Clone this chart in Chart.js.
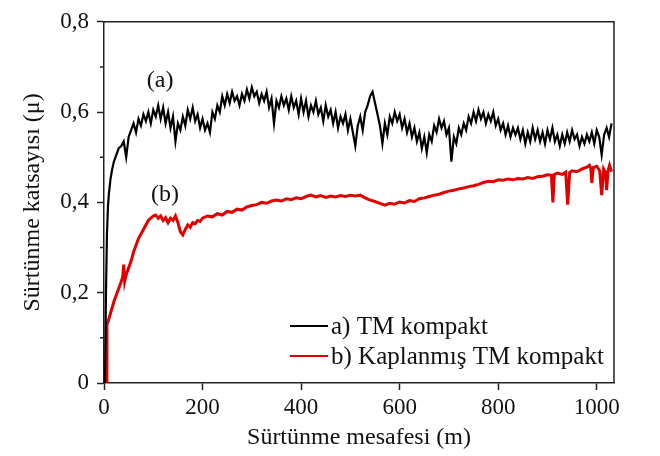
<!DOCTYPE html>
<html>
<head>
<meta charset="utf-8">
<script src="https://cdn.jsdelivr.net/npm/chart.js@4"></script>
<style>
  html, body { margin: 0; padding: 0; background: #fff; }
</style>
</head>
<body>
<canvas id="myChart" width="660" height="456"></canvas>
<script>
// tick labels / titles
const xTicks = [0, 200, 400, 600, 800, 1000];
const yTicks = [0, 0.2, 0.4, 0.6, 0.8];
const yMinor = [0.1, 0.3, 0.5, 0.7];
const xTitle = 'Sürtünme mesafesi (m)';
const yTitle = 'Sürtünme katsayısı (μ)';
const legends = ['a) TM kompakt', 'b) Kaplanmış TM kompakt'];

// (a) TM kompakt
const distA = [2, 4, 6, 8, 10, 13, 16, 20, 25, 30,
  35, 40, 45, 50, 55, 60, 65, 70, 75, 80,
  85, 90, 95, 100, 105, 110, 115, 120, 125, 130,
  135, 140, 145, 150, 155, 160, 165, 170, 175, 180,
  185, 190, 195, 200, 205, 210, 215, 220, 225, 230,
  235, 240, 245, 250, 255, 260, 265, 270, 275, 280,
  285, 290, 295, 300, 305, 310, 315, 320, 325, 330,
  335, 340, 345, 350, 355, 360, 365, 370, 375, 380,
  385, 390, 395, 400, 405, 410, 415, 420, 425, 430,
  435, 440, 445, 450, 455, 460, 465, 470, 475, 480,
  485, 490, 495, 500, 505, 510, 515, 520, 525, 530,
  535, 540, 545, 550, 555, 560, 565, 570, 575, 580,
  585, 590, 595, 600, 605, 610, 615, 620, 625, 630,
  635, 640, 645, 650, 655, 660, 665, 670, 675, 680,
  685, 690, 695, 700, 705, 710, 715, 720, 725, 730,
  735, 740, 745, 750, 755, 760, 765, 770, 775, 780,
  785, 790, 795, 800, 805, 810, 815, 820, 825, 830,
  835, 840, 845, 850, 855, 860, 865, 870, 875, 880,
  885, 890, 895, 900, 905, 910, 915, 920, 925, 930,
  935, 940, 945, 950, 955, 960, 965, 970, 975, 980,
  985, 990, 995, 1000, 1005, 1010, 1015, 1020, 1025, 1030];
const muA = [0, 0.2, 0.33, 0.39, 0.42, 0.45, 0.47, 0.49, 0.505, 0.52,
  0.525, 0.535, 0.50, 0.545, 0.56, 0.575, 0.555, 0.585, 0.57, 0.595,
  0.58, 0.60, 0.575, 0.605, 0.59, 0.615, 0.585, 0.61, 0.575, 0.60,
  0.565, 0.59, 0.535, 0.575, 0.56, 0.59, 0.57, 0.605, 0.585, 0.61,
  0.58, 0.595, 0.565, 0.585, 0.56, 0.575, 0.555, 0.60, 0.585, 0.615,
  0.60, 0.635, 0.615, 0.64, 0.62, 0.645, 0.625, 0.635, 0.615, 0.64,
  0.625, 0.65, 0.63, 0.655, 0.635, 0.645, 0.62, 0.64, 0.625, 0.645,
  0.61, 0.63, 0.575, 0.625, 0.61, 0.635, 0.615, 0.63, 0.605, 0.635,
  0.61, 0.625, 0.595, 0.63, 0.60, 0.625, 0.59, 0.615, 0.60, 0.625,
  0.595, 0.61, 0.58, 0.615, 0.59, 0.605, 0.575, 0.60, 0.565, 0.59,
  0.575, 0.595, 0.56, 0.585, 0.555, 0.525, 0.57, 0.59, 0.56, 0.60,
  0.615, 0.635, 0.645, 0.62, 0.595, 0.57, 0.53, 0.575, 0.55, 0.59,
  0.575, 0.60, 0.58, 0.595, 0.565, 0.585, 0.555, 0.575, 0.545, 0.565,
  0.535, 0.555, 0.52, 0.545, 0.51, 0.55, 0.535, 0.57, 0.555, 0.585,
  0.565, 0.58, 0.55, 0.565, 0.49, 0.545, 0.53, 0.565, 0.55, 0.575,
  0.56, 0.59, 0.575, 0.60, 0.58, 0.605, 0.585, 0.60, 0.575, 0.595,
  0.58, 0.60, 0.57, 0.585, 0.56, 0.575, 0.55, 0.57, 0.545, 0.565,
  0.55, 0.565, 0.54, 0.56, 0.53, 0.555, 0.535, 0.565, 0.54, 0.56,
  0.535, 0.555, 0.53, 0.56, 0.54, 0.565, 0.535, 0.55, 0.525, 0.55,
  0.53, 0.555, 0.535, 0.56, 0.54, 0.55, 0.525, 0.545, 0.53, 0.55,
  0.535, 0.555, 0.53, 0.56, 0.545, 0.505, 0.55, 0.565, 0.545, 0.575];

// (b) Kaplanmış TM kompakt
const distB = [5, 6, 8, 12, 16, 20, 25, 30, 35, 38,
  40, 42, 45, 50, 55, 60, 65, 70, 75, 80,
  85, 90, 95, 100, 105, 110, 115, 120, 125, 130,
  135, 140, 145, 150, 155, 160, 165, 170, 175, 180,
  185, 190, 195,
  200, 210, 220, 230, 240, 250, 260, 270, 280, 290,
  300, 310, 320, 330, 340, 350, 360, 370, 380, 390,
  400, 410, 420, 430, 440, 450, 460, 470, 480, 490,
  500, 510, 520, 530, 540, 550, 560, 570, 580, 590,
  600, 610, 620, 630, 640, 650, 660, 670, 680, 690,
  700, 710, 720, 730, 740, 750, 760, 770, 780, 790,
  800, 810, 820, 830, 840, 850, 860, 870, 880, 890,
  900,
  908, 911, 914, 920, 930, 937, 941, 945, 950, 960,
  970, 980, 985, 988, 990, 993, 1000, 1006, 1010, 1014,
  1018, 1020, 1023, 1026, 1030];
const muB = [0, 0.13, 0.135, 0.15, 0.165, 0.18, 0.195, 0.21, 0.225, 0.235,
  0.262, 0.225, 0.24, 0.255, 0.27, 0.29, 0.305, 0.32, 0.33, 0.34,
  0.35, 0.36, 0.365, 0.37, 0.372, 0.365, 0.37, 0.36, 0.366, 0.355,
  0.365, 0.36, 0.37, 0.355, 0.335, 0.328, 0.34, 0.35, 0.345, 0.355,
  0.353, 0.36, 0.358,
  0.365, 0.37, 0.368, 0.375, 0.372, 0.38, 0.378, 0.385, 0.383, 0.39,
  0.393, 0.395, 0.40, 0.398, 0.403, 0.405, 0.403, 0.408, 0.406, 0.41,
  0.408, 0.413, 0.416, 0.412, 0.415, 0.411, 0.414, 0.412, 0.415, 0.413,
  0.416, 0.414, 0.416, 0.41, 0.405, 0.402, 0.398, 0.394, 0.398, 0.396,
  0.401, 0.399, 0.404, 0.402, 0.408, 0.41, 0.413, 0.416, 0.418, 0.422,
  0.425, 0.427, 0.43, 0.432, 0.435, 0.437, 0.44, 0.444, 0.447, 0.446,
  0.45, 0.449, 0.452, 0.45, 0.453, 0.452, 0.455, 0.453, 0.457, 0.458,
  0.461,
  0.46, 0.40, 0.462, 0.465, 0.462, 0.467, 0.395, 0.466, 0.47, 0.468,
  0.474, 0.478, 0.482, 0.475, 0.443, 0.477, 0.48, 0.47, 0.416, 0.474,
  0.466, 0.427, 0.47, 0.482, 0.468];

const serif = "'Liberation Serif', 'Times New Roman', serif";
const ink = '#111';
const axisColor = '#222';

function toPoints(xs, ys) {
  return xs.map(function (x, i) { return { x: x, y: ys[i] }; });
}

// top/right frame, minor ticks, (a)/(b) labels and the legend
const extras = {
  id: 'extras',
  afterDatasetsDraw(chart) {
    const ctx = chart.ctx;
    const a = chart.chartArea;
    const xs = chart.scales.x, ys = chart.scales.y;
    ctx.save();
    ctx.strokeStyle = axisColor;
    ctx.lineWidth = 1.5;
    ctx.beginPath();
    ctx.moveTo(a.left, a.top);
    ctx.lineTo(a.right, a.top);
    ctx.lineTo(a.right, a.bottom);
    ctx.stroke();

    ctx.beginPath();
    yMinor.forEach(function (v) {
      const py = ys.getPixelForValue(v);
      ctx.moveTo(a.left - 4, py);
      ctx.lineTo(a.left, py);
    });
    ctx.stroke();

    ctx.fillStyle = ink;
    ctx.font = '24px ' + serif;
    ctx.textAlign = 'center';
    ctx.textBaseline = 'middle';
    ctx.fillText('(a)', xs.getPixelForValue(114), ys.getPixelForValue(0.669));
    ctx.fillText('(b)', xs.getPixelForValue(124), ys.getPixelForValue(0.416));

    // legend
    ctx.font = '25px ' + serif;
    ctx.textAlign = 'left';
    const rows = [a.bottom - 57, a.bottom - 27];
    chart.data.datasets.forEach(function (ds, i) {
      ctx.strokeStyle = ds.borderColor;
      ctx.lineWidth = 2;
      ctx.beginPath();
      ctx.moveTo(a.left + 186, rows[i]);
      ctx.lineTo(a.left + 224, rows[i]);
      ctx.stroke();
      ctx.fillText(ds.label, a.left + 227, rows[i] + 1);
    });
    ctx.restore();
  }
};

const data = {
  datasets: [{
    label: legends[0],
    data: toPoints(distA, muA),
    borderColor: '#000000',
    borderWidth: 2.2,
    pointRadius: 0,
    tension: 0
  }, {
    label: legends[1],
    data: toPoints(distB, muB),
    borderColor: '#e00000',
    borderWidth: 3,
    pointRadius: 0,
    tension: 0
  }]
};

const config = {
  type: 'line',
  data: data,
  options: {
    responsive: false,
    animation: false,
    parsing: false,
    layout: { padding: { top: 16, right: 46, left: 0, bottom: 0 } },
    plugins: {
      legend: { display: false },
      tooltip: { enabled: false }
    },
    scales: {
      x: {
        type: 'linear',
        min: 0,
        max: 1035,
        afterBuildTicks: function (s) { s.ticks = xTicks.map(function (v) { return { value: v }; }); },
        afterFit: function (s) { s.height = 73; },
        grid: { drawOnChartArea: false, tickLength: 7, tickColor: axisColor, tickWidth: 1.5 },
        border: { color: axisColor, width: 1.5 },
        ticks: {
          font: { family: serif, size: 23 }, color: ink, padding: 4, maxRotation: 0,
          callback: function (v) { return String(v); }
        },
        title: { display: true, text: xTitle, color: ink, font: { family: serif, size: 24 }, padding: { top: 0, bottom: 4 } }
      },
      y: {
        type: 'linear',
        min: 0,
        max: 0.8,
        afterBuildTicks: function (s) { s.ticks = yTicks.map(function (v) { return { value: v }; }); },
        afterFit: function (s) { s.width = 104; },
        grid: { drawOnChartArea: false, tickLength: 7, tickColor: axisColor, tickWidth: 1.5 },
        border: { color: axisColor, width: 1.5 },
        ticks: {
          font: { family: serif, size: 23 }, color: ink, padding: 8,
          callback: function (v) { return v === 0 ? '0' : v.toFixed(1).replace('.', ','); }
        },
        title: { display: true, text: yTitle, color: ink, font: { family: serif, size: 24 }, padding: { top: 18, bottom: 0 } }
      }
    }
  },
  plugins: [extras]
};

var myChart = new Chart(document.getElementById('myChart'), config);
</script>
</body>
</html>
